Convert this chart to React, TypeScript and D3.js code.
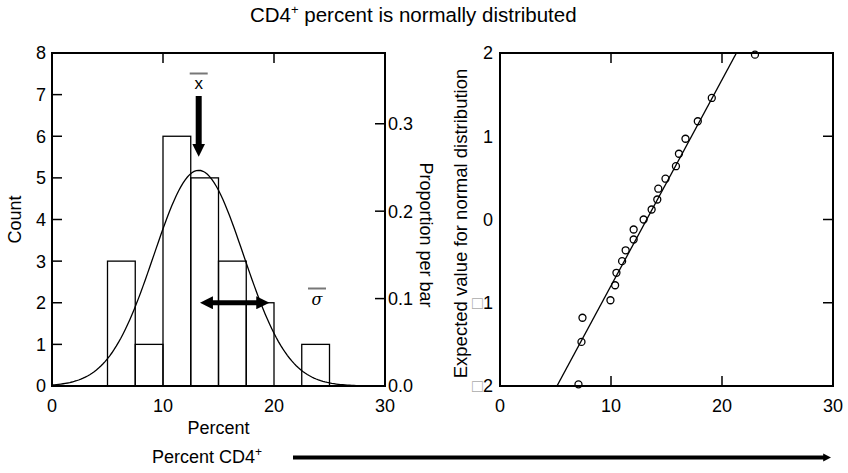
import { useEffect, useRef } from 'react'
import * as d3 from 'd3'

// CD4+ percent for the 21 subjects
const percents: number[] = [
  7.07, 7.34, 7.43, 9.95, 10.37, 10.49, 11.0, 11.32, 12.04, 12.04, 12.94,
  13.66, 14.17, 14.26, 14.91, 15.85, 16.12, 16.71, 17.82, 19.08, 22.97,
]
// expected normal scores, same order
const normalScores: number[] = [
  -1.98, -1.47, -1.18, -0.97, -0.79, -0.64, -0.5, -0.37, -0.24, -0.12, 0.0,
  0.12, 0.24, 0.37, 0.49, 0.64, 0.79, 0.97, 1.18, 1.46, 1.98,
]
const countTicks: number[] = [0, 1, 2, 3, 4, 5, 6, 7, 8]
const propTicks: number[] = [0, 0.1, 0.2, 0.3]
const xTicks: number[] = [0, 10, 20, 30]
const zTicks: number[] = [-2, -1, 0, 1, 2]
const binWidth = 2.5
// sigma annotation arrow ends (percent)
const sigmaArrow: number[] = [13.3, 19.6]

const FONT = 'Liberation Sans, Arial, sans-serif'
const TICK = 18
const LABEL = 18

export default function App() {
  const svgRef = useRef<SVGSVGElement>(null)

  useEffect(() => {
    const svg = d3.select(svgRef.current)
    svg.selectAll('*').remove()

    const N = percents.length
    const mean = d3.mean(percents) as number
    const sd = d3.deviation(percents) as number

    const defs = svg.append('defs')
    const mk = (id: string, w: number, h: number) => {
      defs.append('marker')
        .attr('id', id)
        .attr('viewBox', '0 0 10 10')
        .attr('refX', 1).attr('refY', 5)
        .attr('markerUnits', 'userSpaceOnUse')
        .attr('markerWidth', w).attr('markerHeight', h)
        .attr('orient', 'auto-start-reverse')
        .append('path').attr('d', 'M0,0 L10,5 L0,10 Z').attr('fill', '#000')
    }
    mk('headBig', 13, 13)
    mk('headSmall', 8, 9)

    // title
    const title = svg.append('text')
      .attr('x', 250).attr('y', 22)
      .attr('font-family', FONT).attr('font-size', 20.5)
    title.append('tspan').text('CD4')
    title.append('tspan').attr('font-size', 13).attr('dy', -8).text('+')
    title.append('tspan').attr('dy', 8).text(' percent is normally distributed')

    // ---------- left: histogram ----------
    const L = { left: 52, right: 385, top: 53, bottom: 386 }
    const x1 = d3.scaleLinear().domain([0, 30]).range([L.left, L.right])
    const yC = d3.scaleLinear().domain([0, 8]).range([L.bottom, L.top])
    const yP = d3.scaleLinear().domain([0, 8 / N]).range([L.bottom, L.top])

    const bins = d3.bin()
      .domain([0, 30])
      .thresholds(d3.range(0, 30, binWidth))(percents)
      .filter(b => b.length > 0)

    const g1 = svg.append('g')
    g1.selectAll('rect.bar')
      .data(bins)
      .enter().append('rect')
      .attr('class', 'bar')
      .attr('x', d => x1(d.x0 as number))
      .attr('y', d => yC(d.length))
      .attr('width', d => x1(d.x1 as number) - x1(d.x0 as number))
      .attr('height', d => yC(0) - yC(d.length))
      .attr('fill', 'none').attr('stroke', '#000').attr('stroke-width', 1.3)

    // fitted normal curve
    const pdf = (v: number) => Math.exp(-((v - mean) ** 2) / (2 * sd * sd)) / (sd * Math.sqrt(2 * Math.PI))
    const curve = d3.range(0, 30.01, 0.2).map(v => [v, N * binWidth * pdf(v)] as [number, number])
    g1.append('path')
      .attr('d', d3.line<[number, number]>().x(d => x1(d[0])).y(d => yC(d[1]))(curve))
      .attr('fill', 'none').attr('stroke', '#000').attr('stroke-width', 1.3)

    // frame
    g1.append('rect')
      .attr('x', L.left).attr('y', L.top)
      .attr('width', L.right - L.left).attr('height', L.bottom - L.top)
      .attr('fill', 'none').attr('stroke', '#000').attr('stroke-width', 2)

    // left ticks (inward)
    g1.selectAll('line.yl').data(countTicks.slice(1, -1)).enter().append('line')
      .attr('x1', L.left).attr('x2', L.left + 10)
      .attr('y1', d => yC(d)).attr('y2', d => yC(d))
      .attr('stroke', '#000').attr('stroke-width', 1.5)
    g1.selectAll('text.yl').data(countTicks).enter().append('text')
      .attr('x', L.left - 6).attr('y', d => yC(d))
      .attr('dy', '0.36em').attr('text-anchor', 'end')
      .attr('font-family', FONT).attr('font-size', TICK)
      .text(d => d)
    // right ticks
    g1.selectAll('line.yr').data(propTicks.slice(1)).enter().append('line')
      .attr('x1', L.right - 10).attr('x2', L.right)
      .attr('y1', d => yP(d)).attr('y2', d => yP(d))
      .attr('stroke', '#000').attr('stroke-width', 1.5)
    g1.selectAll('text.yr').data(propTicks).enter().append('text')
      .attr('x', L.right + 3).attr('y', d => yP(d))
      .attr('dy', '0.36em')
      .attr('font-family', FONT).attr('font-size', TICK)
      .text(d => d3.format('.1f')(d))
    // top ticks
    g1.selectAll('line.xt').data(xTicks.slice(1, -1)).enter().append('line')
      .attr('x1', d => x1(d)).attr('x2', d => x1(d))
      .attr('y1', L.top).attr('y2', L.top + 10)
      .attr('stroke', '#000').attr('stroke-width', 1.5)
    g1.selectAll('text.xb').data(xTicks).enter().append('text')
      .attr('x', d => x1(d)).attr('y', L.bottom + 26)
      .attr('text-anchor', 'middle')
      .attr('font-family', FONT).attr('font-size', TICK)
      .text(d => d)

    g1.append('text')
      .attr('x', x1(15)).attr('y', 434)
      .attr('text-anchor', 'middle')
      .attr('font-family', FONT).attr('font-size', LABEL)
      .text('Percent')
    g1.append('text')
      .attr('transform', `translate(21,${(L.top + L.bottom) / 2}) rotate(-90)`)
      .attr('text-anchor', 'middle')
      .attr('font-family', FONT).attr('font-size', LABEL)
      .text('Count')
    g1.append('text')
      .attr('transform', `translate(426,235) rotate(90)`)
      .attr('dy', '0.35em')
      .attr('text-anchor', 'middle')
      .attr('font-family', FONT).attr('font-size', LABEL)
      .text('Proportion per bar')

    // mean annotation
    g1.append('line')
      .attr('x1', x1(mean)).attr('x2', x1(mean))
      .attr('y1', 96).attr('y2', 145)
      .attr('stroke', '#000').attr('stroke-width', 6)
      .attr('marker-end', 'url(#headBig)')
    g1.append('text')
      .attr('x', x1(mean)).attr('y', 89)
      .attr('text-anchor', 'middle')
      .attr('font-family', FONT).attr('font-size', 17)
      .text('x')
    g1.append('line')
      .attr('x1', x1(mean) - 9).attr('x2', x1(mean) + 9)
      .attr('y1', 73.5).attr('y2', 73.5)
      .attr('stroke', '#777').attr('stroke-width', 2)

    // sigma annotation
    g1.append('line')
      .attr('x1', x1(sigmaArrow[0]) + 12).attr('x2', x1(sigmaArrow[1]) - 12)
      .attr('y1', yC(2)).attr('y2', yC(2))
      .attr('stroke', '#000').attr('stroke-width', 5)
      .attr('marker-start', 'url(#headBig)')
      .attr('marker-end', 'url(#headBig)')
    g1.append('text')
      .attr('x', 317).attr('y', 305)
      .attr('text-anchor', 'middle')
      .attr('font-family', 'DejaVu Serif, serif').attr('font-style', 'italic').attr('font-size', 16)
      .text('σ')
    g1.append('line')
      .attr('x1', 308).attr('x2', 326)
      .attr('y1', 288.5).attr('y2', 288.5)
      .attr('stroke', '#777').attr('stroke-width', 2)

    // ---------- right: normal probability plot ----------
    const R = { left: 500, right: 833, top: 53, bottom: 386 }
    const x2 = d3.scaleLinear().domain([0, 30]).range([R.left, R.right])
    const yZ = d3.scaleLinear().domain([-2, 2]).range([R.bottom, R.top])
    const g2 = svg.append('g')

    g2.append('clipPath').attr('id', 'clipR')
      .append('rect').attr('x', R.left).attr('y', R.top)
      .attr('width', R.right - R.left).attr('height', R.bottom - R.top)
    g2.append('line')
      .attr('clip-path', 'url(#clipR)')
      .attr('x1', x2(mean + sd * -2.03)).attr('y1', yZ(-2.03))
      .attr('x2', x2(mean + sd * 2.03)).attr('y2', yZ(2.03))
      .attr('stroke', '#000').attr('stroke-width', 1.3)

    g2.selectAll('circle').data(percents).enter().append('circle')
      .attr('cx', d => x2(d))
      .attr('cy', (_d, i) => yZ(normalScores[i]))
      .attr('r', 3.5)
      .attr('fill', 'none').attr('stroke', '#000').attr('stroke-width', 1.3)

    g2.append('rect')
      .attr('x', R.left).attr('y', R.top)
      .attr('width', R.right - R.left).attr('height', R.bottom - R.top)
      .attr('fill', 'none').attr('stroke', '#000').attr('stroke-width', 2)

    g2.selectAll('line.zr').data(zTicks).enter().append('line')
      .attr('x1', R.right - 10).attr('x2', R.right)
      .attr('y1', d => yZ(d)).attr('y2', d => yZ(d))
      .attr('stroke', '#000').attr('stroke-width', 1.5)
    g2.selectAll('line.xt').data(xTicks.slice(1, -1)).enter().append('line')
      .attr('x1', d => x2(d)).attr('x2', d => x2(d))
      .attr('y1', R.top).attr('y2', R.top + 10)
      .attr('stroke', '#000').attr('stroke-width', 1.5)
    g2.selectAll('line.xb').data(xTicks.slice(1, -1)).enter().append('line')
      .attr('x1', d => x2(d)).attr('x2', d => x2(d))
      .attr('y1', R.bottom - 10).attr('y2', R.bottom)
      .attr('stroke', '#000').attr('stroke-width', 1.5)

    g2.selectAll('text.xb').data(xTicks).enter().append('text')
      .attr('x', d => x2(d)).attr('y', R.bottom + 26)
      .attr('text-anchor', 'middle')
      .attr('font-family', FONT).attr('font-size', TICK)
      .text(d => d)
    const zl = g2.selectAll('text.zl').data(zTicks).enter().append('text')
      .attr('x', R.left - 7).attr('y', d => yZ(d))
      .attr('dy', '0.36em').attr('text-anchor', 'end')
      .attr('font-family', FONT).attr('font-size', TICK)
    zl.filter(d => d < 0).append('tspan').attr('fill', '#aaa').text('□')
    zl.append('tspan').text(d => String(Math.abs(d)))

    g2.append('text')
      .attr('transform', `translate(467,223.5) rotate(-90)`)
      .attr('text-anchor', 'middle')
      .attr('font-family', FONT).attr('font-size', 18.5)
      .text('Expected value for normal distribution')

    // bottom shared axis arrow
    const lab = svg.append('text')
      .attr('x', 152).attr('y', 463)
      .attr('font-family', FONT).attr('font-size', LABEL)
    lab.append('tspan').text('Percent CD4')
    lab.append('tspan').attr('font-size', 12).attr('dy', -7).text('+')
    svg.append('line')
      .attr('x1', 293).attr('x2', 824)
      .attr('y1', 457.5).attr('y2', 457.5)
      .attr('stroke', '#000').attr('stroke-width', 4)
      .attr('marker-end', 'url(#headSmall)')
  }, [])

  return (
    <svg
      ref={svgRef}
      width={848}
      height={473}
      style={{ position: 'absolute', left: 0, top: 0, background: '#fff' }}
    />
  )
}
